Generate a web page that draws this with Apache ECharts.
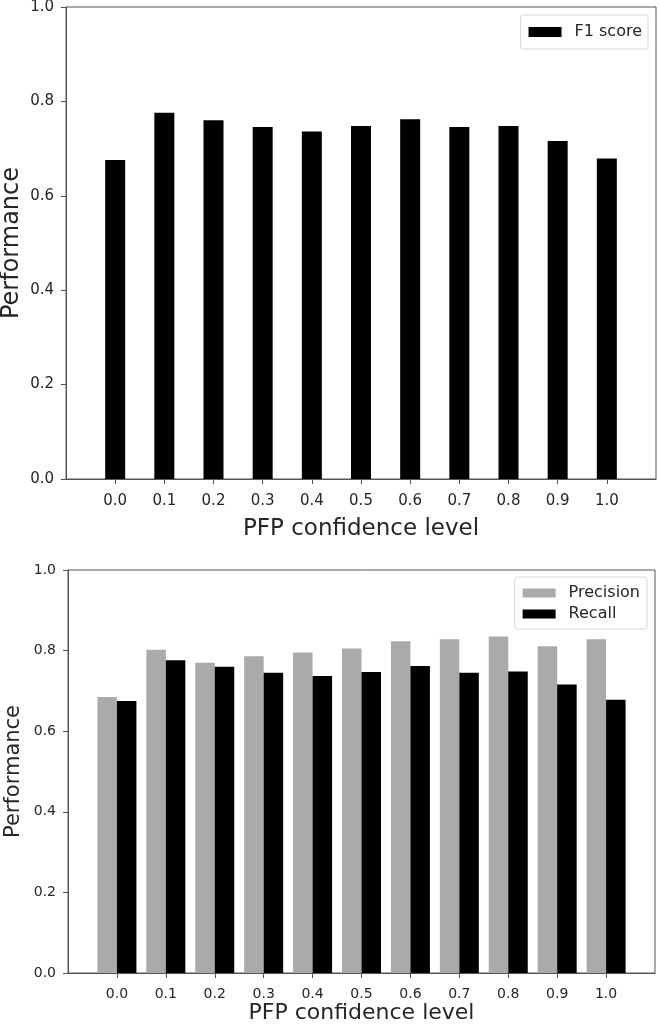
<!DOCTYPE html>
<html>
<head>
<meta charset="utf-8">
<script src="https://cdn.jsdelivr.net/npm/echarts@6/dist/echarts.min.js"></script>
<style>
  html, body { margin: 0; padding: 0; background: #fff; }
  #chart { width: 660px; height: 1025px; }
</style>
</head>
<body>
<div id="chart"></div>
<script>
  // PFP confidence levels on the x axis
  const levels = ['0.0', '0.1', '0.2', '0.3', '0.4', '0.5', '0.6', '0.7', '0.8', '0.9', '1.0'];
  // top panel
  const f1Score = [0.676, 0.776, 0.760, 0.746, 0.736, 0.748, 0.762, 0.746, 0.748, 0.716, 0.679];
  // bottom panel
  const precision = [0.685, 0.802, 0.770, 0.786, 0.795, 0.805, 0.823, 0.828, 0.835, 0.811, 0.828];
  const recall = [0.675, 0.776, 0.760, 0.745, 0.737, 0.747, 0.762, 0.745, 0.748, 0.716, 0.678];
  const yTicks = [0, 0.2, 0.4, 0.6, 0.8, 1.0];

  const font = 'DejaVu Sans';
  const spine = '#555';
  const textColor = '#262626';
  const toPairs = arr => arr.map((v, i) => [i, v]);
  const tickPos = levels.map((_, i) => i);

  // plot boxes (pixels), shared by grids and the rotated y titles
  const topBox = { left: 66, right: 4, top: 7, height: 472 };
  const botBox = { left: 68, right: 5, top: 570, height: 403 };

  function xAxis(gridIndex, labelSize, labelMargin, nameSize, nameGap) {
    return {
      type: 'value', gridIndex: gridIndex,
      min: -1, max: levels.length,
      name: 'PFP confidence level', nameLocation: 'middle', nameGap: nameGap,
      nameTextStyle: { fontFamily: font, fontSize: nameSize, color: textColor },
      axisLine: { show: true, onZero: false, lineStyle: { color: spine, width: 1 } },
      axisTick: { show: true, length: 5, customValues: tickPos, lineStyle: { color: spine } },
      splitLine: { show: false },
      axisLabel: {
        fontFamily: font, fontSize: labelSize, color: textColor, margin: labelMargin,
        customValues: tickPos,
        formatter: v => levels[Math.round(v)]
      }
    };
  }

  function yAxis(gridIndex, labelSize) {
    return {
      type: 'value', gridIndex: gridIndex,
      min: yTicks[0], max: yTicks[yTicks.length - 1], interval: 0.2,
      axisLine: { show: true, onZero: false, lineStyle: { color: spine, width: 1 } },
      axisTick: { show: true, length: 5, lineStyle: { color: spine } },
      splitLine: { show: false },
      axisLabel: {
        fontFamily: font, fontSize: labelSize, color: textColor, margin: 12,
        formatter: v => v.toFixed(1)
      }
    };
  }

  function yTitle(box, cx, size) {
    return {
      type: 'text', x: cx, y: box.top + box.height / 2, rotation: Math.PI / 2,
      style: { text: 'Performance', fontFamily: font, fontSize: size, fill: textColor,
               align: 'center', verticalAlign: 'middle' }
    };
  }

  const legendBase = {
    orient: 'vertical',
    icon: 'rect',
    backgroundColor: '#fff',
    borderColor: '#d8d8d8', borderWidth: 1, borderRadius: 3,
    itemWidth: 33,
    textStyle: { fontFamily: font, fontSize: 16, color: textColor, padding: [0, 0, 0, 8] }
  };

  const gridBase = { show: true, borderColor: spine, borderWidth: 1, backgroundColor: 'transparent', outerBoundsMode: 'none' };

  const chart = echarts.init(document.getElementById('chart'), null, { renderer: 'canvas' });
  chart.setOption({
    animation: false,
    backgroundColor: '#fff',
    grid: [
      Object.assign({}, gridBase, topBox),
      Object.assign({}, gridBase, botBox)
    ],
    legend: [
      Object.assign({}, legendBase, { data: ['F1 score'], right: 12, top: 15, itemHeight: 10, padding: [9, 6, 9, 8] }),
      Object.assign({}, legendBase, { data: ['Precision', 'Recall'], right: 13, top: 577, itemHeight: 9, itemGap: 5, padding: [8, 7, 7, 8] })
    ],
    graphic: [yTitle(topBox, 12, 24), yTitle(botBox, 14, 21)],
    xAxis: [xAxis(0, 15, 15, 23, 39), xAxis(1, 14, 14, 22, 29)],
    yAxis: [yAxis(0, 15), yAxis(1, 14)],
    series: [
      { name: 'F1 score', type: 'bar', xAxisIndex: 0, yAxisIndex: 0, barWidth: 20,
        itemStyle: { color: '#000' }, data: toPairs(f1Score) },
      { name: 'Precision', type: 'bar', xAxisIndex: 1, yAxisIndex: 1, barWidth: 19.5, barGap: '0%',
        itemStyle: { color: '#aaaaaa' }, data: toPairs(precision) },
      { name: 'Recall', type: 'bar', xAxisIndex: 1, yAxisIndex: 1, barWidth: 19.5, barGap: '0%',
        itemStyle: { color: '#000' }, data: toPairs(recall) }
    ]
  });
</script>
</body>
</html>
